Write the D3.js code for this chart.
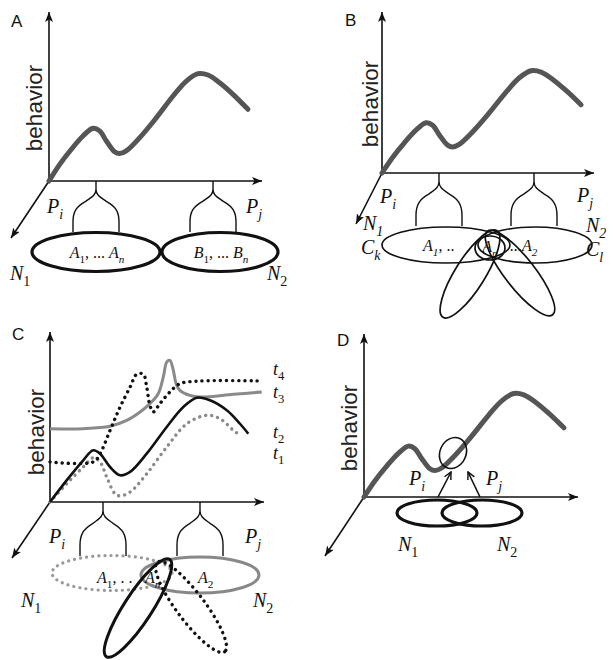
<!DOCTYPE html>
<html><head><meta charset="utf-8">
<script src="https://cdn.jsdelivr.net/npm/d3@7"></script>
<style>html,body{margin:0;padding:0;background:#fff}</style>
</head><body>
<script>
// ---- data (curve values in axis units 0..100) ----
const behaviorCurve = [[0,0],[5.1,9.9],[10.6,18.9],[16.1,26.8],[20.9,31.4],[24,29.8],[27.2,23.8],[31.1,17.4],[33.5,16.3],[36.6,17.9],[43,25.8],[50.9,37.7],[58.8,50.6],[65.1,59.5],[70.6,63.9],[75.4,63.1],[80.9,58.5],[87.2,51.6],[94.3,42.7]];
const t1Curve = [[0,0],[7.8,10.8],[15.6,20.7],[20.3,26.2],[23.5,23.7],[26.6,14.8],[30.5,4.9],[32.9,3.6],[37.6,5.9],[45.4,16.7],[54.8,32.5],[64.2,46.3],[73.6,51.3],[79.8,49.3],[86.1,42.4],[89.2,39.5]];
const t2Curve = [[0,0],[7.8,12.8],[15.6,24.7],[20.3,30.6],[23.5,28.6],[28.2,20.7],[32.9,15.8],[37.6,17.8],[45.4,28.6],[54.8,44.4],[62.6,56.2],[68.9,61.7],[75.1,60.2],[83,54.3],[89.2,46.3],[93.1,40.4]];
const t3Curve = [[0,43.4],[15.6,43.4],[28.2,44.8],[36,48.3],[42.3,53.3],[46.9,58.2],[50.8,64.1],[53.2,74],[54.8,82.8],[56.3,83.8],[57.9,77.9],[59.2,70],[61,66.1],[65.7,63.1],[70.4,62.1],[86.1,63.7],[99.4,65.1]];
const t4Curve = [[0,23.7],[20.3,23.7],[23.5,28.6],[28.2,42.4],[32.9,56.2],[37.6,68],[40.7,75.6],[43.8,75.6],[45.4,68],[46.9,57.2],[48.5,53.3],[51.6,58.2],[56.3,65.1],[61,70],[70.4,71.6],[99.4,71.6]];
const panelLetters = ["A","B","C","D"];
const tLabels = ["t4","t3","t2","t1"];

// ---- layout ----
const panels = [
  {id:"A", ox:49, oy:181, L:211, H:168, xEnd:262, yTop:12, diag:[11,238], title:[11,27], beh:[42,108]},
  {id:"B", ox:382, oy:173, L:211, H:160, xEnd:594, yTop:12, diag:[356,224], title:[345,26], beh:[378,104]},
  {id:"C", ox:50, oy:502, L:213, H:169, xEnd:264, yTop:332, diag:[12,558], title:[12,340], beh:[44,432]},
  {id:"D", ox:364, oy:497, L:212, H:162, xEnd:578, yTop:334, diag:[325,556], title:[337,346], beh:[357,428]}
];

const svg = d3.select("body").append("svg").attr("width",613).attr("height",660);
svg.append("rect").attr("width",613).attr("height",660).attr("fill","#fff");
const defs = svg.append("defs");
defs.append("marker").attr("id","arr").attr("viewBox","0 0 10 8").attr("refX",10).attr("refY",4)
  .attr("markerWidth",10).attr("markerHeight",8).attr("markerUnits","userSpaceOnUse").attr("orient","auto")
  .append("path").attr("d","M0,0 L10,4 L0,8 L2.5,4 Z").attr("fill","#111");
defs.append("marker").attr("id","arrs").attr("viewBox","0 0 10 10").attr("refX",9).attr("refY",5)
  .attr("markerWidth",9).attr("markerHeight",9).attr("markerUnits","userSpaceOnUse").attr("orient","auto")
  .append("path").attr("d","M1,1 L9,5 L1,9").attr("fill","none").attr("stroke","#111").attr("stroke-width",1.6);

const SERIF = "Liberation Serif, Times New Roman, serif";
const SANS = "Liberation Sans, Arial, sans-serif";

function rich(g, x, y, segs, size, anchor){
  const t = g.append("text").attr("x",x).attr("y",y).style("font-family",SERIF)
    .attr("font-size",size).attr("text-anchor",anchor||"start").attr("fill","#111");
  let off = 0;
  segs.forEach(s=>{
    const sp = t.append("tspan").text(s.t);
    const target = s.sub ? size*0.3 : 0;
    if (target !== off){ sp.attr("dy", target-off); off = target; }
    if (s.sub) sp.attr("font-size", size*0.7);
    if (s.i) sp.style("font-style","italic");
  });
  return t;
}
function lab(main, sub, subItalic){ return [{t:main,i:true},{t:sub,sub:true,i:!!subItalic}]; }

function forkPath(x, y0, y1, w){
  const h = y1-y0;
  const p = d3.path();
  p.moveTo(x,y0); p.lineTo(x,y0+0.16*h);
  [-1,1].forEach(s=>{
    p.moveTo(x,y0+0.16*h);
    p.bezierCurveTo(x,y0+0.28*h, x+s*0.2*w,y0+0.32*h, x+s*0.45*w,y0+0.4*h);
    p.bezierCurveTo(x+s*0.85*w,y0+0.5*h, x+s*w,y0+0.6*h, x+s*w,y0+0.8*h);
    p.lineTo(x+s*w,y1);
  });
  return p.toString();
}

const ctx = {};
panels.forEach((P,i)=>{
  const g = svg.append("g");
  const x = d3.scaleLinear().domain([0,100]).range([P.ox,P.ox+P.L]);
  const y = d3.scaleLinear().domain([0,100]).range([P.oy,P.oy-P.H]);
  ctx[P.id] = {g,x,y,P};
  g.append("line").attr("x1",P.ox).attr("y1",P.oy).attr("x2",P.ox).attr("y2",P.yTop)
    .attr("stroke","#111").attr("stroke-width",1.6).attr("marker-end","url(#arr)");
  g.append("line").attr("x1",P.ox).attr("y1",P.oy).attr("x2",P.xEnd).attr("y2",P.oy)
    .attr("stroke","#111").attr("stroke-width",1.6).attr("marker-end","url(#arr)");
  g.append("line").attr("x1",P.ox).attr("y1",P.oy).attr("x2",P.diag[0]).attr("y2",P.diag[1])
    .attr("stroke","#111").attr("stroke-width",1.6).attr("marker-end","url(#arr)");
  g.append("text").attr("x",P.title[0]).attr("y",P.title[1]).style("font-family",SANS)
    .attr("font-size",17).attr("fill","#111").text(panelLetters[i]);
  g.append("text").attr("transform",`translate(${P.beh[0]},${P.beh[1]}) rotate(-90)`)
    .attr("text-anchor","middle").style("font-family",SANS).attr("font-size",22.5).attr("fill","#222").text("behavior");
});

const line = (c)=> d3.line().x(d=>c.x(d[0])).y(d=>c.y(d[1])).curve(d3.curveCatmullRom.alpha(0.5));
const ell = (g,cx,cy,rx,ry,rot)=> g.append("ellipse").attr("rx",rx).attr("ry",ry)
  .attr("transform",`translate(${cx},${cy}) rotate(${rot||0})`).attr("fill","none");

// ---- Panel A ----
(function(){
  const {g,P} = ctx.A;
  g.append("path").attr("d",line(ctx.A)(behaviorCurve)).attr("fill","none").attr("stroke","#555").attr("stroke-width",5).attr("stroke-linecap","round");
  [96,213].forEach(fx=> g.append("path").attr("d",forkPath(fx,P.oy,232,23)).attr("fill","none").attr("stroke","#111").attr("stroke-width",1.4));
  [[96,252,64,19.5],[220,252,58,19.5]].forEach(e=> ell(g,e[0],e[1],e[2],e[3]).attr("stroke","#111").attr("stroke-width",3.2));
  rich(g,97,258,[{t:"A",i:true},{t:"1",sub:true},{t:",  ... "},{t:"A",i:true},{t:"n",sub:true,i:true}],16,"middle");
  rich(g,221,258,[{t:"B",i:true},{t:"1",sub:true},{t:",  ... "},{t:"B",i:true},{t:"n",sub:true,i:true}],16,"middle");
  rich(g,47,213,lab("P","i",true),20);
  rich(g,246,213,lab("P","j",true),20);
  rich(g,10,280,lab("N","1"),20);
  rich(g,267,280,lab("N","2"),20);
})();

// ---- Panel B ----
(function(){
  const {g,P} = ctx.B;
  g.append("path").attr("d",line(ctx.B)(behaviorCurve)).attr("fill","none").attr("stroke","#555").attr("stroke-width",5).attr("stroke-linecap","round");
  [439,534].forEach(fx=> g.append("path").attr("d",forkPath(fx,P.oy,226,23)).attr("fill","none").attr("stroke","#111").attr("stroke-width",1.4));
  const el = [[446,245,64,18,0],[535,245,57,18,0],[490,248,15,12,0],[470,274,51,15,122],[520,273,53,15,52]];
  el.forEach(e=> ell(g,e[0],e[1],e[2],e[3],e[4]).attr("stroke","#111").attr("stroke-width",1.7));
  rich(g,423,251,[{t:"A",i:true},{t:"1",sub:true,i:true},{t:",  .."}],16);
  rich(g,490,252,[{t:"A",i:true},{t:"n",sub:true,i:true}],16,"middle");
  rich(g,510,251,[{t:"...A",i:true},{t:"2",sub:true,i:true}],16);
  rich(g,380,203,lab("P","i",true),20);
  rich(g,577,202,lab("P","j",true),20);
  rich(g,363,230,lab("N","1",true),20);
  rich(g,361,254,lab("C","k",true),20);
  rich(g,586,232,lab("N","2",true),20);
  rich(g,586,256,lab("C","l",true),20);
})();

// ---- Panel C ----
(function(){
  const {g,P} = ctx.C;
  const L = line(ctx.C);
  g.append("path").attr("d",L(t3Curve)).attr("fill","none").attr("stroke","#8a8a8a").attr("stroke-width",3);
  g.append("path").attr("d",L(t1Curve)).attr("fill","none").attr("stroke","#8a8a8a").attr("stroke-width",3.4).attr("stroke-dasharray","0.1,6").attr("stroke-linecap","round");
  g.append("path").attr("d",L(t2Curve)).attr("fill","none").attr("stroke","#111").attr("stroke-width",2.6);
  g.append("path").attr("d",L(t4Curve)).attr("fill","none").attr("stroke","#111").attr("stroke-width",3.4).attr("stroke-dasharray","0.1,6").attr("stroke-linecap","round");
  [103,200].forEach(fx=> g.append("path").attr("d",forkPath(fx,P.oy,556,23)).attr("fill","none").attr("stroke","#111").attr("stroke-width",1.4));
  ell(g,112,573,60,17.5).attr("stroke","#999").attr("stroke-width",3.2).attr("stroke-dasharray","0.1,6").attr("stroke-linecap","round");
  ell(g,200,575,59,18).attr("stroke","#888").attr("stroke-width",3);
  ell(g,138,608,58,14,123).attr("stroke","#111").attr("stroke-width",3);
  ell(g,191,607,56,14,53).attr("stroke","#111").attr("stroke-width",3.4).attr("stroke-dasharray","0.1,6").attr("stroke-linecap","round");
  rich(g,97,583,[{t:"A",i:true},{t:"1",sub:true},{t:",  . ."}],16);
  rich(g,145,583,[{t:"A",i:true},{t:"n",sub:true,i:true}],16);
  rich(g,198,583,[{t:"A",i:true},{t:"2",sub:true}],16);
  const ty = [375,398,438,459];
  tLabels.forEach((t,k)=> rich(g,273,ty[k],lab("t",t.slice(1)),18));
  rich(g,49,543,lab("P","i",true),20);
  rich(g,245,543,lab("P","j",true),20);
  rich(g,21,607,lab("N","1"),20);
  rich(g,253,607,lab("N","2"),20);
})();

// ---- Panel D ----
(function(){
  const {g,P} = ctx.D;
  g.append("path").attr("d",line(ctx.D)(behaviorCurve)).attr("fill","none").attr("stroke","#555").attr("stroke-width",5).attr("stroke-linecap","round");
  ell(g,453,453,13,16,25).attr("stroke","#111").attr("stroke-width",1.6);
  [[438,497,451,472],[480,497,468,472]].forEach(a=> g.append("line").attr("x1",a[0]).attr("y1",a[1]).attr("x2",a[2]).attr("y2",a[3]).attr("stroke","#111").attr("stroke-width",1.6).attr("marker-end","url(#arrs)"));
  [[437,513,40,13],[482,513,40,13]].forEach(e=> ell(g,e[0],e[1],e[2],e[3]).attr("stroke","#111").attr("stroke-width",3.2));
  rich(g,409,485,lab("P","i",true),20);
  rich(g,486,485,lab("P","j",true),20);
  rich(g,398,551,lab("N","1"),20);
  rich(g,497,551,lab("N","2"),20);
})();
</script>
</body></html>
